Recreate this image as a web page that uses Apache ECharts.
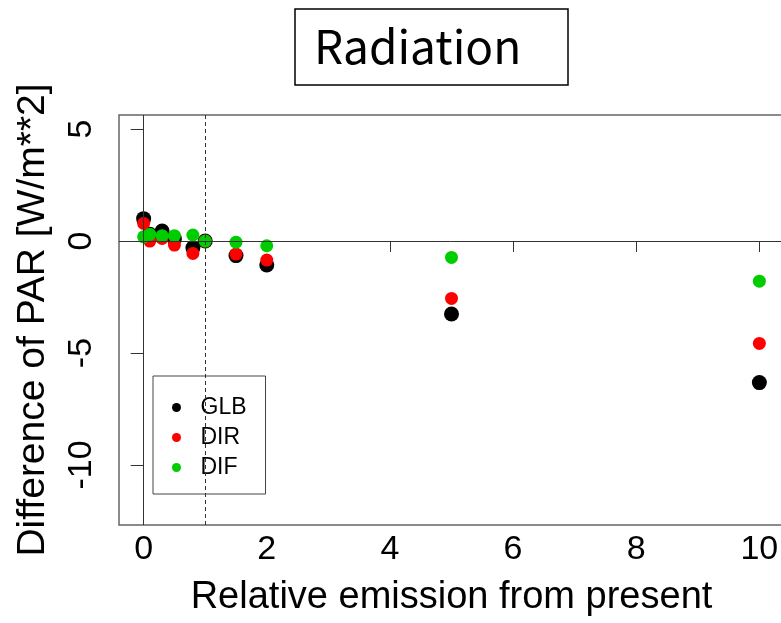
<!DOCTYPE html>
<html>
<head>
<meta charset="utf-8">
<script src="https://cdn.jsdelivr.net/npm/echarts@6/dist/echarts.min.js"></script>
<style>html,body{margin:0;padding:0;background:#fff}#c{width:781px;height:623px}</style>
</head>
<body>
<div id="c"></div>
<script>
var emission = [0, 0.1, 0.3, 0.5, 0.8, 1, 1.5, 2, 5, 10];
var glb = [1.0, 0.3, 0.45, 0.1, -0.3, 0.0, -0.65, -1.07, -3.26, -6.32];
var dir = [0.79, 0.0, 0.12, -0.18, -0.55, 0.0, -0.58, -0.85, -2.56, -4.57];
var dif = [0.19, 0.3, 0.24, 0.24, 0.27, 0.0, -0.05, -0.21, -0.73, -1.79];
var xTicks = [0, 2, 4, 6, 8, 10];
var yTicks = [-10, -5, 0, 5];
var seriesNames = ['GLB', 'DIR', 'DIF'];

function pairs(ys) { return emission.map(function (x, i) { return [x, ys[i]]; }); }

var chart = echarts.init(document.getElementById('c'));
var font = 'Liberation Sans, Arial, sans-serif';
chart.setOption({
  animation: false,
  title: {
    text: 'Radiation',
    left: 295, top: 9,
    padding: [13, 47, 13, 19],
    borderColor: '#000', borderWidth: 1.5,
    textStyle: { fontFamily: 'Noto Sans CJK JP', fontWeight: 'normal', fontSize: 46, lineHeight: 50, color: '#000' }
  },
  legend: {
    data: seriesNames,
    orient: 'vertical',
    left: 153, top: 376,
    padding: [20, 19, 15, 19],
    itemGap: 7,
    itemWidth: 38, itemHeight: 9,
    borderColor: '#444', borderWidth: 1,
    textStyle: { fontFamily: font, fontSize: 23, color: '#000', lineHeight: 22 }
  },
  grid: {
    left: 119, top: 115, width: 665, height: 410,
    outerBoundsMode: 'none',
    show: true, borderColor: '#666', borderWidth: 1.5, backgroundColor: 'transparent'
  },
  xAxis: {
    type: 'value', min: -0.4, max: 10.4,
    name: 'Relative emission from present', nameLocation: 'middle', nameGap: 54,
    nameTextStyle: { fontFamily: font, fontSize: 38, color: '#000' },
    axisLine: { show: false },
    axisTick: { show: true, length: 11, customValues: xTicks, lineStyle: { color: '#333' } },
    axisLabel: { customValues: xTicks, fontFamily: font, fontSize: 34, color: '#000', margin: 8 },
    splitLine: { show: false }
  },
  yAxis: {
    type: 'value', min: -12.68, max: 5.63,
    name: 'Difference of PAR [W/m**2]', nameLocation: 'middle', nameGap: 66, nameRotate: 90,
    nameTextStyle: { fontFamily: font, fontSize: 39, color: '#000' },
    axisLine: { show: false },
    axisTick: { show: true, length: 13, customValues: yTicks, lineStyle: { color: '#333' } },
    axisLabel: { customValues: yTicks, rotate: 90, fontFamily: font, fontSize: 34, color: '#000', margin: 20 },
    splitLine: { show: false }
  },
  series: [
    {
      name: 'GLB', type: 'scatter', data: pairs(glb), symbol: 'circle', symbolSize: 15,
      itemStyle: { color: '#000', opacity: 1 },
      markLine: {
        silent: true, symbol: 'none', label: { show: false }, animation: false,
        lineStyle: { color: '#333', width: 1, type: 'solid' },
        data: [
          { xAxis: 0 },
          { yAxis: 0 },
          { xAxis: 1, lineStyle: { type: [4, 3], color: '#333', width: 1 } }
        ]
      }
    },
    { name: 'DIR', type: 'scatter', data: pairs(dir), symbol: 'circle', symbolSize: 13, itemStyle: { color: '#ff0000', opacity: 1 } },
    { name: 'DIF', type: 'scatter', data: pairs(dif), symbol: 'circle', symbolSize: 13, itemStyle: { color: '#00cd00', opacity: 1 } }
  ]
});
</script>
</body>
</html>
